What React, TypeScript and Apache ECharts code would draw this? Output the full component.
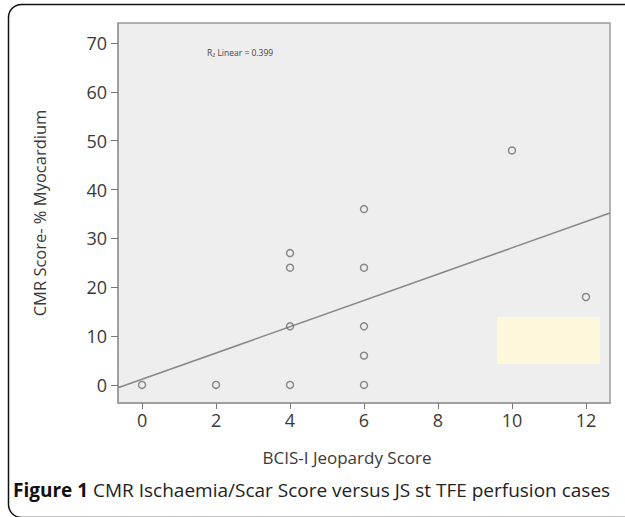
import React, { useEffect, useRef } from "react";
import * as echarts from "echarts";

const xTicks = [0, 2, 4, 6, 8, 10, 12];
const yTicks = [0, 10, 20, 30, 40, 50, 60, 70];
const points: number[][] = [
  [0, 0], [2, 0], [4, 0], [4, 12], [4, 24], [4, 27],
  [6, 0], [6, 6], [6, 12], [6, 24], [6, 36], [10, 48], [12, 18],
];
const fitLine: number[][] = [[-0.65, -0.6], [12.65, 35.2]];
const highlightBox: number[][] = [[9.6, 13.9], [12.38, 4.3]];
const xName = "BCIS-I Jeopardy Score";
const yName = "CMR Score- % Myocardium";
const fitLabel = "R\u2082 Linear = 0.399";
const captionBold = "Figure 1";
const captionText = " CMR Ischaemia/Scar Score versus JS st TFE perfusion cases";

export default function App() {
  const ref = useRef<HTMLDivElement>(null);
  useEffect(() => {
    if (!ref.current) return;
    const chart = echarts.init(ref.current, undefined, { renderer: "svg" });
    const font = "'Open Sans', 'Noto Sans', sans-serif";
    chart.setOption({
      animation: false,
      backgroundColor: "#ffffff",
      grid: {
        left: 118, top: 23, right: 15, bottom: 114,
        show: true, backgroundColor: "#eeeeee", borderColor: "#9a9a9a", borderWidth: 1.5,
      },
      xAxis: {
        type: "value", min: -0.65, max: 12.65,
        splitLine: { show: false },
        axisLine: { show: true, onZero: false, lineStyle: { color: "#9a9a9a", width: 1.5 } },
        axisTick: { show: true, customValues: xTicks, length: 6, lineStyle: { color: "#777" } },
        axisLabel: { customValues: xTicks, fontSize: 18, color: "#3a3a3a", margin: 8, fontFamily: font },
      },
      yAxis: {
        type: "value", min: -3.7, max: 74.1,
        splitLine: { show: false },
        name: yName, nameLocation: "middle", nameRotate: 90, nameGap: 70,
        nameTextStyle: { fontSize: 16.5, color: "#3a3a3a", fontFamily: font },
        axisLine: { show: true, onZero: false, lineStyle: { color: "#9a9a9a", width: 1.5 } },
        axisTick: { show: true, customValues: yTicks, length: 7, lineStyle: { color: "#777" } },
        axisLabel: { customValues: yTicks, fontSize: 18, color: "#3a3a3a", margin: 11, fontFamily: font },
      },
      series: [
        {
          type: "line", data: fitLine, symbol: "none", silent: true,
          lineStyle: { color: "#888", width: 1.6 },
          markArea: {
            silent: true,
            itemStyle: { color: "#fdf8dc" },
            data: [[{ coord: highlightBox[0] }, { coord: highlightBox[1] }]],
          },
          z: 2,
        },
        {
          type: "scatter", data: points, symbol: "circle", symbolSize: 7,
          itemStyle: { color: "rgba(0,0,0,0)", borderColor: "#6a6a6a", borderWidth: 1.4 },
          z: 3,
        },
      ],
      graphic: [
        {
          type: "rect", shape: { x: 8.5, y: 4.5, width: 630, height: 513, r: 13 },
          style: { fill: "none", stroke: "#111", lineWidth: 1.5 }, silent: true,
        },
        {
          type: "text", x: 207, y: 52,
          style: { text: fitLabel, fontSize: 8.5, fill: "#444", fontFamily: font, verticalAlign: "middle" },
        },
        {
          type: "text", x: 347, y: 457,
          style: { text: xName, fontSize: 17, fill: "#3a3a3a", fontFamily: font, align: "center", verticalAlign: "middle" },
        },
        {
          type: "text", x: 13, y: 490,
          style: {
            text: "{b|" + captionBold + "}{n|" + captionText + "}",
            verticalAlign: "middle",
            rich: {
              b: { fontSize: 19, fontWeight: "bold", fill: "#111", fontFamily: font },
              n: { fontSize: 19, fill: "#222", fontFamily: font },
            },
          },
        },
      ],
    });
    return () => chart.dispose();
  }, []);
  return <div ref={ref} style={{ width: 625, height: 517, position: "absolute", left: 0, top: 0 }} />;
}
